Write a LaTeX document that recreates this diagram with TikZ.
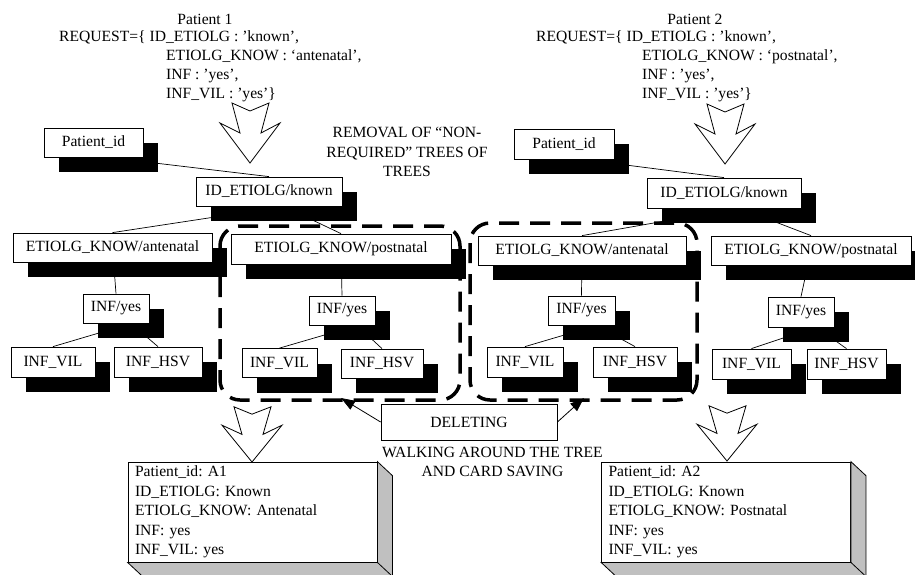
\documentclass[tikz,border=0pt]{standalone}
\usepackage{fontspec}
\setmainfont{Liberation Serif}
\usetikzlibrary{shadows,calc,arrows.meta}
\pgfdeclarelayer{bg}
\pgfsetlayers{bg,main}
\definecolor{facegray}{HTML}{C0C0C0}
\frenchspacing
\begin{document}
\begin{tikzpicture}[x=1pt,y=-1pt,
  font=\fontsize{15.6}{19.5}\selectfont\frenchspacing,
  treebox/.style={draw,line width=0.8pt,fill=white,inner sep=0pt,minimum height=29pt,
     drop shadow={shadow xshift=15pt,shadow yshift=-15pt,fill=black,opacity=1}},
  edge/.style={line width=0.7pt},
  plain/.style={inner sep=0pt},
  card/.style={draw,line width=0.8pt,fill=white,minimum height=100pt,text width=235pt,
     inner xsep=7pt,inner ysep=0pt,align=left},
  dashregion/.style={line width=3.5pt,dash pattern=on 20pt off 11pt,rounded corners=20pt},
  delarrow/.style={line width=0.8pt,-{Triangle[length=14pt,width=10pt]}},
  bigarrow/.pic={\draw[line width=0.8pt,fill=white] (-18,-60) -- (0,-52) -- (19,-60) -- (11,-30)
     -- (30,-40) -- (0,0) -- (-30,-40) -- (-10,-30) -- cycle;}]
\useasboundingbox (0,0) rectangle (915,574);

% ---------- top request texts ----------
\node[plain,anchor=base] (p1) at (205,24) {Patient 1};
\node[plain,anchor=base west] (r1a) at (59,41) {REQUEST=\{ ID\_ETIOLG : ’known’,};
\node[plain,anchor=base west] (r1b) at (166,60) {ETIOLG\_KNOW : ‘antenatal’,};
\node[plain,anchor=base west] (r1c) at (166,79) {INF : ’yes’,};
\node[plain,anchor=base west] (r1d) at (166,98) {INF\_VIL : ’yes’\}};

\node[plain,anchor=base] (p2) at (695,24) {Patient 2};
\node[plain,anchor=base west] (r2a) at (536,41) {REQUEST=\{ ID\_ETIOLG : ’known’,};
\node[plain,anchor=base west] (r2b) at (642,60) {ETIOLG\_KNOW : ‘postnatal’,};
\node[plain,anchor=base west] (r2c) at (642,79) {INF : ’yes’,};
\node[plain,anchor=base west] (r2d) at (642,98) {INF\_VIL : ’yes’\}};

\node[plain,align=center] (rem) at (407,152) {REMOVAL OF “NON-\\REQUIRED” TREES OF\\TREES};

% ---------- block arrows ----------
\pic at (250,163) {bigarrow};
\pic at (725,164) {bigarrow};
\pic[yscale=0.92] at (252,462) {bigarrow};
\pic[yscale=0.92] at (727,461) {bigarrow};

% ---------- tree of patient 1 ----------
\node[treebox,minimum width=99pt]  (pidA)  at (93.5,142.5) {Patient\_id};
\node[treebox,minimum width=146pt] (idA)   at (269,191.5) {ID\_ETIOLG/known};
\node[treebox,minimum width=199pt] (anteA) at (112.5,247.5) {ETIOLG\_KNOW/antenatal};
\node[treebox,minimum width=220pt,minimum height=30pt] (postA) at (341,249) {ETIOLG\_KNOW/postnatal};
\node[treebox,minimum width=66pt]  (infA1) at (116,308.5) {INF/yes};
\node[treebox,minimum width=66pt]  (infA2) at (342,310.5) {INF/yes};
\node[treebox,minimum width=84pt,minimum height=30pt]  (vilA1) at (53,362) {INF\_VIL};
\node[treebox,minimum width=88pt,minimum height=30pt]  (hsvA1) at (158,362) {INF\_HSV};
\node[treebox,minimum width=75pt]  (vilA2) at (279.5,363) {INF\_VIL};
\node[treebox,minimum width=82pt]  (hsvA2) at (382,363.5) {INF\_HSV};

% ---------- tree of patient 2 ----------
\node[treebox,minimum width=100pt,minimum height=30pt] (pidB)  at (564,144) {Patient\_id};
\node[treebox,minimum width=154pt,minimum height=30pt] (idB)   at (724,193) {ID\_ETIOLG/known};
\node[treebox,minimum width=208pt] (anteB) at (582,250.5) {ETIOLG\_KNOW/antenatal};
\node[treebox,minimum width=200pt] (postB) at (811,250.5) {ETIOLG\_KNOW/postnatal};
\node[treebox,minimum width=67pt]  (infB1) at (581.5,310.5) {INF/yes};
\node[treebox,minimum width=66pt,minimum height=30pt]  (infB2) at (801,312) {INF/yes};
\node[treebox,minimum width=76pt,minimum height=30pt]  (vilB1) at (525,362) {INF\_VIL};
\node[treebox,minimum width=84pt,minimum height=30pt]  (hsvB1) at (635,362) {INF\_HSV};
\node[treebox,minimum width=79pt,minimum height=30pt]  (vilB2) at (751.5,364) {INF\_VIL};
\node[treebox,minimum width=79pt,minimum height=30pt]  (hsvB2) at (846.5,364) {INF\_HSV};

% ---------- tree connectors (behind boxes) ----------
\begin{pgfonlayer}{bg}
\draw[edge] ($(pidA.center)+(15,15)$) -- (idA.north);
\draw[edge] ($(idA.center)+(15,15)$) -- (anteA.north);
\draw[edge] ($(idA.center)+(15,15)$) -- (postA.north);
\draw[edge] (anteA.center) -- (infA1.north);
\draw[edge] (postA.center) -- (infA2.north);
\draw[edge] ($(infA1.center)+(15,15)$) -- (vilA1.north);
\draw[edge] ($(infA1.center)+(15,15)$) -- (hsvA1.north);
\draw[edge] ($(infA2.center)+(15,15)$) -- (vilA2.north);
\draw[edge] ($(infA2.center)+(15,15)$) -- (hsvA2.north);
\draw[edge] ($(pidB.center)+(15,15)$) -- (idB.north);
\draw[edge] ($(idB.center)+(15,15)$) -- (anteB.north);
\draw[edge] ($(idB.center)+(15,15)$) -- (postB.north);
\draw[edge] (anteB.center) -- (infB1.north);
\draw[edge] (postB.center) -- (infB2.north);
\draw[edge] ($(infB1.center)+(15,15)$) -- (vilB1.north);
\draw[edge] ($(infB1.center)+(15,15)$) -- (hsvB1.north);
\draw[edge] ($(infB2.center)+(15,15)$) -- (vilB2.north);
\draw[edge] ($(infB2.center)+(15,15)$) -- (hsvB2.north);
\end{pgfonlayer}

% ---------- dashed regions ----------
\draw[dashregion] (220,226) rectangle (460,400);
\draw[dashregion] (470,223) rectangle (697,400);

% ---------- deleting ----------
\node[draw,line width=0.8pt,fill=white,minimum width=176pt,minimum height=36pt,inner sep=0pt] (del) at (469,422) {DELETING};
\coordinate (delL) at (341,398);
\coordinate (delR) at (584,398);
\draw[delarrow] (del.west) -- (delL);
\draw[delarrow] (del.east) -- (delR);
\node[plain,align=center] (walk) at (492.5,462) {WALKING AROUND THE TREE\\AND CARD SAVING};

% ---------- result cards ----------
\node[card] (cardA) at (252.5,512) {Patient\_id: A1\\ID\_ETIOLG: Known\\ETIOLG\_KNOW: Antenatal\\INF: yes\\INF\_VIL: yes};
\filldraw[fill=facegray,line width=0.8pt] (cardA.north east) -- ++(15,14) -- ($(cardA.south east)+(15,14)$)
   -- ($(cardA.south west)+(15,14)$) -- (cardA.south west) -- (cardA.south east) -- cycle;
\draw[line width=0.8pt] (cardA.south east) -- ++(15,14);

\node[card] (cardB) at (726,512) {Patient\_id: A2\\ID\_ETIOLG: Known\\ETIOLG\_KNOW: Postnatal\\INF: yes\\INF\_VIL: yes};
\filldraw[fill=facegray,line width=0.8pt] (cardB.north east) -- ++(15,14) -- ($(cardB.south east)+(15,14)$)
   -- ($(cardB.south west)+(15,14)$) -- (cardB.south west) -- (cardB.south east) -- cycle;
\draw[line width=0.8pt] (cardB.south east) -- ++(15,14);
\end{tikzpicture}
\end{document}
